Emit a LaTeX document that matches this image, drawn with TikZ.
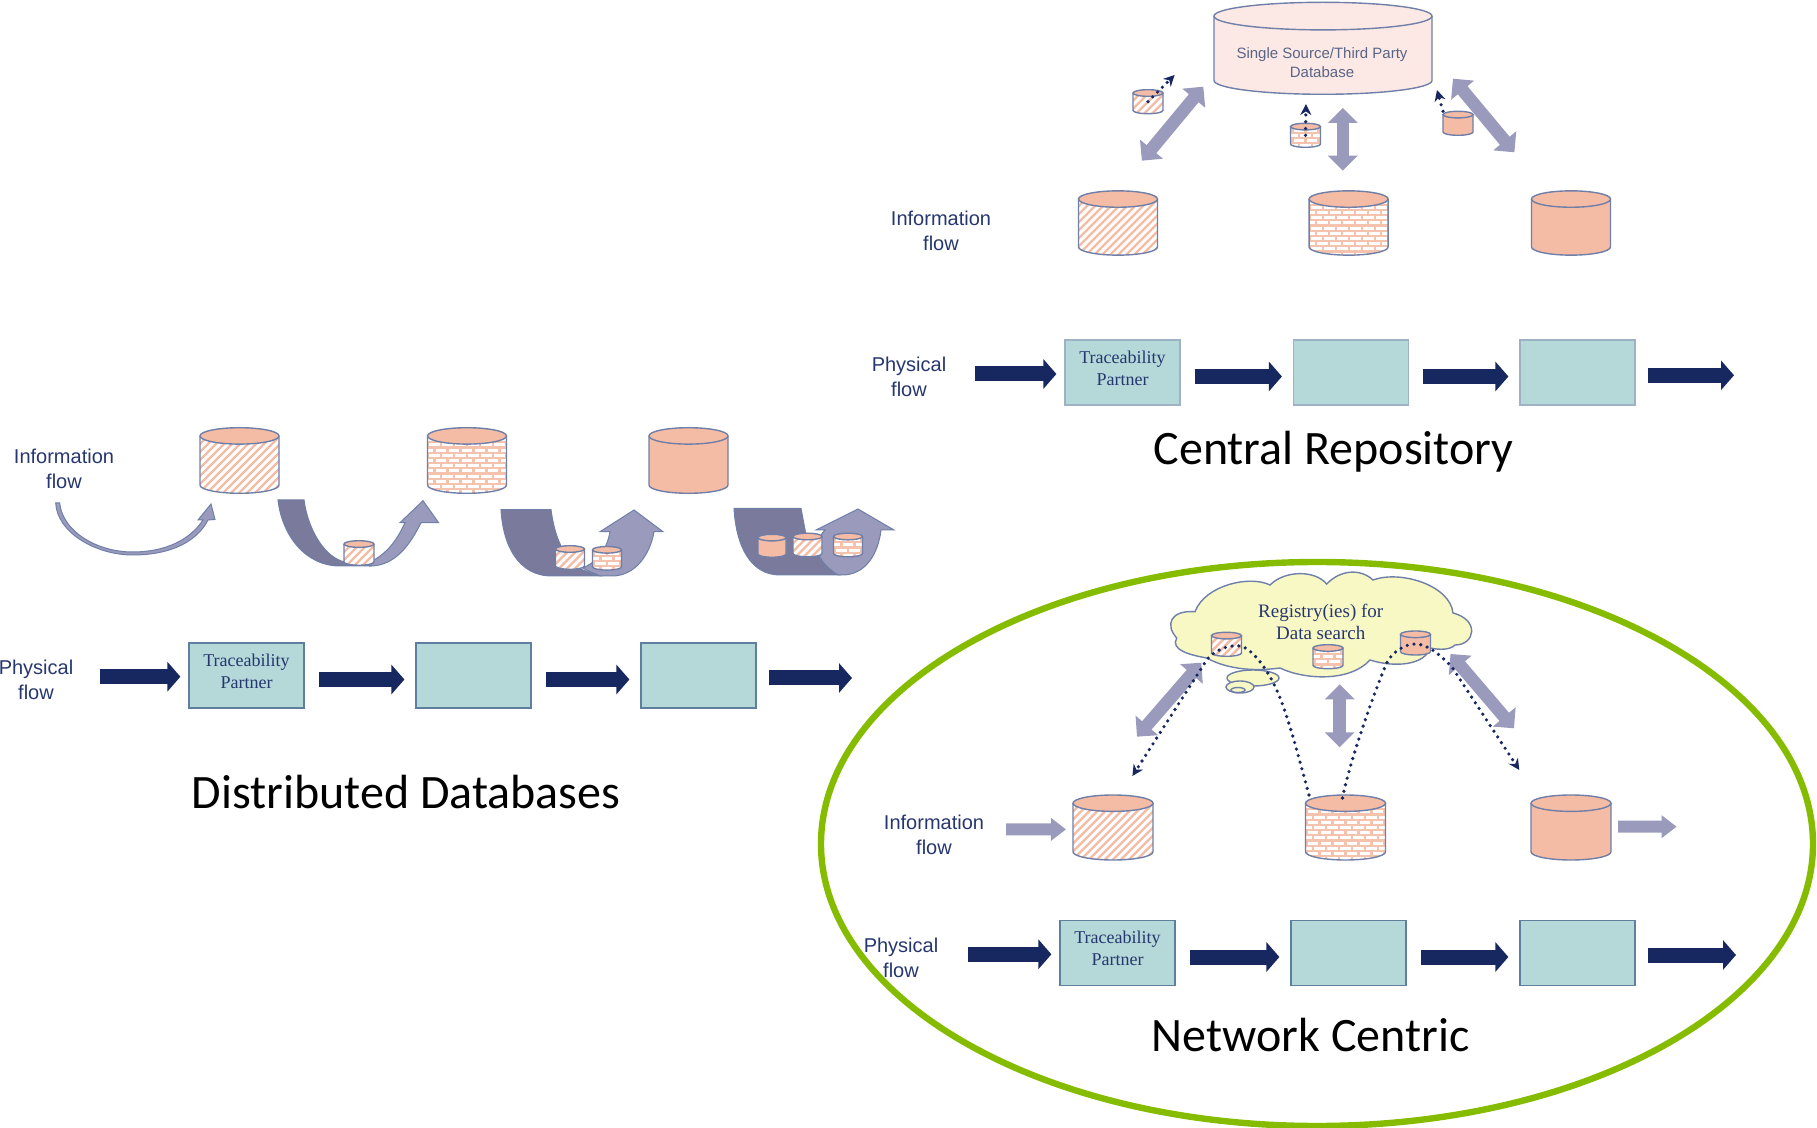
\documentclass[tikz,border=0pt]{standalone}
\usepackage{fontspec}
\setmainfont{Liberation Sans}
\newfontfamily\titlefont{Carlito}
\newfontfamily\romanfont{Liberation Serif}
\usepackage{xcolor}
\usepackage{tikz}
\usetikzlibrary{arrows.meta}
\definecolor{salmon}{HTML}{F4BBA5}
\definecolor{palepink}{HTML}{FCE9E5}
\definecolor{tealbox}{HTML}{B5D8D9}
\definecolor{tealedge}{HTML}{5F7F9F}
\definecolor{navyflow}{HTML}{17275F}
\definecolor{lavender}{HTML}{9A9ABC}
\definecolor{slateflow}{HTML}{7A7A9C}
\definecolor{drumedge}{HTML}{6F7FA8}
\definecolor{labelblue}{HTML}{26376F}
\definecolor{ringgreen}{HTML}{85BC00}
\definecolor{cloudfill}{HTML}{F8F8C4}
\pgfdeclareverticalshading{tealfade}{100bp}{color(0bp)=(tealbox!45!white); color(14bp)=(tealbox); color(100bp)=(tealbox)}
\tikzset{
    drumline/.style={draw=drumedge, line width=0.7pt},
    drumbox/.style={inner sep=0pt, outer sep=0pt},
    tpbox/.style={draw=tealedge, line width=0.6pt, fill=tealbox, minimum width=57.5pt, minimum height=32.5pt, inner sep=0pt},
    tpfade/.style={draw=tealedge!60!white, shading=tealfade},
    tptext/.style={font=\romanfont\fontsize{9}{10.8}\selectfont, text=labelblue, align=center, inner sep=0pt},
    flowlabel/.style={font=\fontsize{10}{12.5}\selectfont, text=labelblue, align=center, inner sep=0pt},
    titlelabel/.style={font=\titlefont\fontsize{24}{28}\selectfont, text=black, inner sep=0pt},
    navyarrow/.style={draw=navyflow, line width=7.5pt, -{Triangle[length=6.5pt,width=14.5pt]}, shorten <=7pt, shorten >=5.5pt},
    navystart/.style={navyarrow, shorten <=0pt, shorten >=4pt},
    navyend/.style={navyarrow, shorten >=0pt, shorten <=6pt},
    swaparrow/.style={draw=lavender, line width=6.3pt, {Triangle[length=7.5pt,width=14.5pt]}-{Triangle[length=7.5pt,width=14.5pt]}},
    liftarrow/.style={draw=lavender, line width=6pt, -{Triangle[length=7.5pt,width=11pt]}},
    dotarrow/.style={draw=navyflow, line width=1.8pt, line cap=round, dash pattern=on 0pt off 3.4pt, -{Stealth[length=5.5pt,width=5.5pt]}},
    bendfront/.style={fill=lavender, draw=drumedge, line width=0.5pt},
    bendback/.style={fill=slateflow, draw=drumedge, line width=0.5pt},
}
\newcommand{\drumsolid}{\fill[salmon] (-120,-60) rectangle (120,60);}
\newcommand{\drumpale}{\fill[palepink] (-120,-60) rectangle (120,60);}
\newcommand{\drumhatch}{
    \fill[white] (-50,-40) rectangle (50,40);
    \foreach \k in {-80,-72,...,80} {
        \draw[salmon, line width=1.2pt] (\k-40,40) -- (\k+40,-40);
    }
}
\newcommand{\drumbrick}{
    \fill[salmon!90!white] (-50,-40) rectangle (50,40);
    \foreach \r in {-8,...,8} {
        \pgfmathsetmacro{\off}{mod(\r+8,2)*6.5}
        \foreach \k in {-52,-39,...,52} {
            \fill[white] ({\k+\off-5.4},{\r*5.2-1.5}) rectangle ({\k+\off+5.4},{\r*5.2+1.5});
        }
    }
}
% centre, width, height, cap radius, kind
\newcommand{\drum}[6][salmon]{
    \begin{scope}[shift={(#2)}]
        \pgfmathsetmacro{\rx}{#3/2}
        \pgfmathsetmacro{\hy}{#4/2-#5}
        \begin{scope}
            \clip (-\rx,-\hy) -- (-\rx,\hy) arc[start angle=180, end angle=0, x radius=\rx, y radius=#5] -- (\rx,-\hy) -- cycle;
            \csname drum#6\endcsname
        \end{scope}
        \draw[drumline] (-\rx,-\hy) -- (-\rx,\hy) arc[start angle=180, end angle=0, x radius=\rx, y radius=#5] -- (\rx,-\hy);
        \draw[drumline, fill=#1] (0,-\hy) ellipse[x radius=\rx, y radius=#5];
    \end{scope}
}
\begin{document}
\begin{tikzpicture}[x=0.5pt,y=-0.5pt]
    \useasboundingbox (0,0) rectangle (1817,1128);

    % Network Centric ring
    \draw[draw=ringgreen, line width=3.2pt] (1317,844) ellipse[x radius=496, y radius=282];

    % Distributed Databases
    \foreach \nm/\cx/\kind in {dhatch/239.5/hatch, dbrick/467/brick, dsolid/688.5/solid} {
        \node[drumbox, minimum width=39.5pt, minimum height=33pt] (\nm) at (\cx,460.5) {};
        \drum{\cx,460.5}{79}{65.6}{8.2}{\kind}
    }
    \node[flowlabel] (dinfo) at (64,468.5) {Information\\flow};
    \node[flowlabel] (dphys) at (36,680) {Physical\\flow};
    \node[tpbox, label={[tptext,yshift=2.2pt]center:Traceability\\Partner}] (dtp1) at (246.5,675.5) {};
    \node[tpbox] (dtp2) at (473.5,675.5) {};
    \node[tpbox] (dtp3) at (698.5,675.5) {};
    \coordinate (din) at (100,676.7);
    \coordinate (dout) at (852,678);
    \node[titlelabel] (dtitle) at (406,792) {Distributed Databases};

    % bent arrows
    \draw[bendfront] (55.7,503) .. controls (57,532) and (95,555) .. (133,555) .. controls (165,555) and (195,545) .. (208,520) -- (215,519.5) -- (211,504) -- (198,520) -- (203,520) .. controls (190,540) and (165,552) .. (133,552) .. controls (95,552) and (62,530) .. (59.7,503) -- cycle;
    \draw[bendback] (278,500) .. controls (282,535) and (305,566) .. (340,566) -- (372,566) -- (345,562) .. controls (325,558) and (308,530) .. (304,500) -- cycle;
    \draw[bendfront] (421,522.7) -- (438.6,522.7) -- (423,500.7) -- (400,522.7) -- (405,522.7) .. controls (397,540) and (388,552) .. (374,560) -- (370,566) .. controls (395,566) and (410,545) .. (421,522.7) -- cycle;
    \drum{359,553}{30}{24.5}{3.3}{hatch}

    \draw[bendback] (501,509.7) .. controls (503,545) and (518,576) .. (552,576) -- (600,576) -- (583,570) .. controls (565,560) and (555,540) .. (551,509.7) -- cycle;
    \draw[bendfront] (610,531.7) -- (600,531.7) -- (634,510) -- (663,531.7) -- (654,531.7) .. controls (650,555) and (635,576) .. (612,576) -- (600,576) .. controls (592,572) and (585,570) .. (583,568) .. controls (600,560) and (607,548) .. (610,531.7) -- cycle;
    \drum{570,557.5}{29}{23.6}{3.3}{hatch}
    \drum{607,558.3}{29}{23.6}{3.3}{brick}

    \draw[bendback] (734,508.3) .. controls (736,545) and (750,575) .. (780,575) -- (840,575) -- (815,548) -- (806,535) -- (801,508.3) -- cycle;
    \draw[bendfront] (825,530) -- (816,530) -- (858,509) -- (894,530) -- (881,530) .. controls (878,555) and (865,575) .. (842,575) -- (838,575) .. controls (822,565) and (808,548) .. (825,530) -- cycle;
    \drum{772,545.8}{28}{23}{3.3}{solid}
    \drum{807.5,545}{29}{23.6}{3.3}{hatch}
    \drum{848,545}{29}{23.6}{3.3}{brick}

    % Central Repository
    \drum[palepink]{1323,48.3}{218}{92}{13.8}{pale}
    \node[drumbox, font=\fontsize{7.5}{9.5}\selectfont, text=drumedge!80!black, align=center] (cmain) at (1322,62.8) {Single Source/Third Party\\Database};
    \foreach \nm/\cx/\kind in {chatch/1118/hatch, cbrick/1348.6/brick, csolid/1571/solid} {
        \node[drumbox, minimum width=39.5pt, minimum height=32pt] (\nm) at (\cx,223) {};
        \drum{\cx,223}{79}{64.3}{8.2}{\kind}
    }
    \foreach \nm/\cx/\cy/\kind in {cmove1/1148/101.7/hatch, cmove2/1305.5/135.3/brick, cmove3/1458/123.3/solid} {
        \node[drumbox, minimum width=15pt, minimum height=12pt] (\nm) at (\cx,\cy) {};
        \drum{\cx,\cy}{30}{24}{3.3}{\kind}
    }
    \coordinate (cup1) at (1203.3,86.7);
    \coordinate (cdn1) at (1141.9,160.7);
    \coordinate (cup2) at (1342.8,108);
    \coordinate (cdn2) at (1342.8,170.7);
    \coordinate (cup3) at (1453,78.7);
    \coordinate (cdn3) at (1514.4,152.3);
    \foreach \i in {1,2,3} {
        \draw[swaparrow] (cup\i) -- (cdn\i);
    }
    \coordinate (cdot1) at (1174.6,75);
    \coordinate (cdot2) at (1306,104);
    \coordinate (cdot3) at (1437,90);
    \draw[dotarrow] (cmove1.center) -- (cdot1);
    \draw[dotarrow] (cmove2.center) -- (cdot2);
    \draw[dotarrow] (cmove3.north west) -- (cdot3);
    \node[flowlabel] (cinfo) at (941,231) {Information\\flow};
    \node[flowlabel] (cphys) at (909,377) {Physical\\flow};
    \node[tpbox, tpfade, label={[tptext,yshift=2.2pt]center:Traceability\\Partner}] (ctp1) at (1122.5,372.5) {};
    \node[tpbox, tpfade] (ctp2) at (1351,372.5) {};
    \node[tpbox, tpfade] (ctp3) at (1577.5,372.5) {};
    \coordinate (cin) at (975,374);
    \coordinate (cout) at (1734,375.3);
    \node[titlelabel] (ctitle) at (1333.6,452) {Central Repository};

    % Network Centric
    \draw[drumline, fill=cloudfill] (1195,611.7) .. controls (1205,585) and (1250,575) .. (1270,585) .. controls (1285,570) and (1315,570) .. (1326.7,584) .. controls (1340,570) and (1360,568) .. (1373,580) .. controls (1400,570) and (1450,585) .. (1453,613) .. controls (1480,620) and (1475,645) .. (1455,645) .. controls (1450,650) and (1440,650) .. (1430,648) .. controls (1425,665) and (1395,668) .. (1370,660) .. controls (1350,682) and (1305,680) .. (1280,668) .. controls (1250,672) and (1225,668) .. (1206.7,658) .. controls (1190,655) and (1170,650) .. (1176.7,638) .. controls (1165,625) and (1170,610) .. (1195,611.7) -- cycle;
    \draw[drumline, fill=cloudfill] (1253,678) ellipse[x radius=26, y radius=8];
    \draw[drumline, fill=cloudfill] (1240,687) ellipse[x radius=14, y radius=6];
    \draw[drumline, fill=cloudfill] (1238,690) ellipse[x radius=7, y radius=2.5];
    \node[tptext, font=\romanfont\fontsize{9.5}{11}\selectfont] (nreg) at (1320.7,622) {Registry(ies) for\\Data search};
    \foreach \nm/\cx/\cy/\kind in {nmove1/1226.5/644.3/hatch, nmove2/1328/656.7/brick, nmove3/1415.5/643/solid} {
        \node[drumbox, minimum width=15pt, minimum height=12pt] (\nm) at (\cx,\cy) {};
        \drum{\cx,\cy}{30}{24}{3.3}{\kind}
    }
    \foreach \nm/\cx/\kind in {nhatch/1113/hatch, nbrick/1345.5/brick, nsolid/1571/solid} {
        \node[drumbox, minimum width=40pt, minimum height=32.5pt] (\nm) at (\cx,827.5) {};
        \drum{\cx,827.5}{80}{65}{8.2}{\kind}
    }
    \coordinate (nup1) at (1201.3,662.7);
    \coordinate (ndn1) at (1137,736.7);
    \coordinate (nup2) at (1339.7,684.3);
    \coordinate (ndn2) at (1339.7,747.3);
    \coordinate (nup3) at (1450.5,654);
    \coordinate (ndn3) at (1514,728.3);
    \foreach \i in {1,2,3} {
        \draw[swaparrow] (nup\i) -- (ndn\i);
    }
    \coordinate (ntip1) at (1132.4,776);
    \coordinate (ntip3) at (1519.3,770);
    \coordinate (nfeed) at (1309,795);
    \coordinate (nfeedb) at (1342.5,798);
    \draw[dotarrow] (nfeed) .. controls (1298,755) and (1288,715) .. (1276.7,690) .. controls (1268,670) and (1252,648) .. (1240,646) .. controls (1228,644) and (1212,652) .. (1206.7,660) -- (ntip1);
    \draw[dotarrow] (nfeedb) .. controls (1350,760) and (1375,690) .. (1386.7,663) .. controls (1392,652) and (1405,644) .. (1415,644) .. controls (1428,644) and (1440,655) .. (1451.7,666.7) -- (ntip3);
    \coordinate (nliftin) at (1006,829.3);
    \coordinate (nliftout) at (1676.6,826.7);
    \draw[liftarrow] (nliftin) -- ([yshift=-0.95pt,xshift=-3.5pt]nhatch.west);
    \draw[liftarrow] ([yshift=0.4pt,xshift=3.5pt]nsolid.east) -- (nliftout);
    \node[flowlabel] (ninfo) at (934,835) {Information\\flow};
    \node[flowlabel] (nphys) at (901,958) {Physical\\flow};
    \node[tpbox, label={[tptext,yshift=2.2pt]center:Traceability\\Partner}] (ntp1) at (1117.5,953) {};
    \node[tpbox] (ntp2) at (1348.5,953) {};
    \node[tpbox] (ntp3) at (1577.5,953) {};
    \coordinate (nin) at (968,954.3);
    \coordinate (nout) at (1736,955);
    \node[titlelabel] (ntitle) at (1310.6,1035) {Network Centric};

    % physical flow arrows
    \foreach \row in {d,c,n} {
        \draw[navystart] (\row in) -- (\row in -| \row tp1.west);
        \foreach \i/\j in {1/2,2/3} {
            \draw[navyarrow] ([yshift=-2pt]\row tp\i.east) -- ([yshift=-2pt]\row tp\j.west);
        }
        \draw[navyend] (\row tp3.east |- \row out) -- (\row out);
    }
\end{tikzpicture}
\end{document}
